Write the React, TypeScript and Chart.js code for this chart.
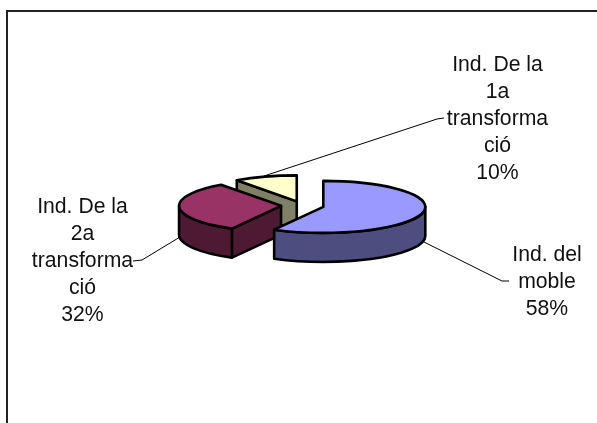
import React, { useEffect, useRef } from "react";
import { Chart, registerables } from "chart.js";

Chart.register(...registerables);

const categories = ["Ind. del moble", "Ind. De la 2a transformació", "Ind. De la 1a transformació"];
const values = [58, 32, 10];
const topColors = ["#9999FF", "#993366", "#FFFFCC"];
const wallColors = ["#4D4D80", "#4D1933", "#808066"];
const labelLines = [
  ["Ind. del", "moble", "58%"],
  ["Ind. De la", "2a", "transforma", "ció", "32%"],
  ["Ind. De la", "1a", "transforma", "ció", "10%"],
];
const labelCentres = [[547, 261], [82.5, 213], [497.5, 71]];
const leaders = [
  [[424, 242], [502, 281], [509, 281]],
  [[180, 237], [142, 260], [133, 261]],
  [[264, 176], [437, 119], [444, 118]],
];
const explode = [22, 21, 17];

const FONT_SIZE = 21.2;
const LINE_STEP = 27;
const TILT = 26 / 102;
const DEPTH = 29;
const CENTRE_X = 302;
const CENTRE_Y = 205.5;

const pie3d = {
  id: "pie3d",
  beforeDatasetsDraw(chart: any) {
    const ctx: CanvasRenderingContext2D = chart.ctx;
    const arcs = chart.getDatasetMeta(0).data as any[];
    // back to front
    const order = [2, 1, 0];
    for (const i of order) {
      const arc = arcs[i];
      const r = arc.outerRadius;
      const mid = (arc.startAngle + arc.endAngle) / 2;
      const ax = CENTRE_X + Math.cos(mid) * explode[i];
      const ay = CENTRE_Y + Math.sin(mid) * explode[i] * TILT;
      const a0 = arc.startAngle;
      const a1 = arc.endAngle;
      const px = (a: number) => ax + Math.cos(a) * r;
      const py = (a: number) => ay + Math.sin(a) * r * TILT;

      ctx.save();
      ctx.lineWidth = 2.6;
      ctx.lineJoin = "round";
      ctx.strokeStyle = "#000";
      ctx.fillStyle = wallColors[i];

      const cut = (a: number) => {
        ctx.beginPath();
        ctx.moveTo(ax, ay);
        ctx.lineTo(px(a), py(a));
        ctx.lineTo(px(a), py(a) + DEPTH);
        ctx.lineTo(ax, ay + DEPTH);
        ctx.closePath();
        ctx.fill();
        ctx.stroke();
      };
      if (-Math.cos(a0) > 1e-6) cut(a0);
      if (Math.cos(a1) > 1e-6) cut(a1);

      // outer wall: the part of the rim that faces the viewer
      const from = Math.max(a0, 0);
      const to = Math.min(a1, Math.PI);
      if (to > from) {
        ctx.beginPath();
        ctx.ellipse(ax, ay, r, r * TILT, 0, from, to, false);
        ctx.lineTo(px(to), py(to) + DEPTH);
        ctx.ellipse(ax, ay + DEPTH, r, r * TILT, 0, to, from, true);
        ctx.closePath();
        ctx.fill();
        ctx.stroke();
      }

      // top face drawn by the library's own arc element, flattened
      ctx.save();
      ctx.translate(ax, ay);
      ctx.scale(1, TILT);
      ctx.translate(-arc.x, -arc.y);
      arc.draw(ctx);
      ctx.restore();

      ctx.beginPath();
      ctx.moveTo(ax, ay);
      ctx.lineTo(px(a0), py(a0));
      ctx.ellipse(ax, ay, r, r * TILT, 0, a0, a1, false);
      ctx.closePath();
      ctx.stroke();
      ctx.restore();
    }
    return false;
  },
  afterDraw(chart: any) {
    const ctx: CanvasRenderingContext2D = chart.ctx;
    ctx.save();
    ctx.strokeStyle = "#000";
    ctx.lineWidth = 1;
    for (const pts of leaders) {
      ctx.beginPath();
      pts.forEach(([x, y], k) => (k ? ctx.lineTo(x, y) : ctx.moveTo(x, y)));
      ctx.stroke();
    }
    ctx.fillStyle = "#111";
    ctx.font = `${FONT_SIZE}px "Liberation Sans", Arial, sans-serif`;
    ctx.textAlign = "center";
    ctx.textBaseline = "alphabetic";
    labelLines.forEach((lines, i) => {
      const [cx, cy] = labelCentres[i];
      lines.forEach((t, k) => ctx.fillText(t, cx, cy + k * LINE_STEP));
    });
    // frame
    ctx.strokeStyle = "#222";
    ctx.lineWidth = 2;
    ctx.beginPath();
    ctx.moveTo(7, 423);
    ctx.lineTo(7, 11);
    ctx.lineTo(597, 11);
    ctx.stroke();
    ctx.restore();
  },
};

export default function App() {
  const ref = useRef<HTMLCanvasElement>(null);
  useEffect(() => {
    document.body.style.margin = "0";
    document.body.style.background = "#fff";
    const chart = new Chart(ref.current!, {
      type: "pie",
      data: {
        labels: categories,
        datasets: [
          {
            data: values,
            backgroundColor: topColors,
            borderWidth: 0,
            radius: 102,
          } as any,
        ],
      },
      options: {
        responsive: false,
        animation: false,
        layout: { padding: 0 },
        plugins: { legend: { display: false }, tooltip: { enabled: false } },
      },
      plugins: [pie3d as any],
    });
    return () => chart.destroy();
  }, []);
  return <canvas ref={ref} width={597} height={423} style={{ display: "block", filter: "blur(0.35px)" }} />;
}
